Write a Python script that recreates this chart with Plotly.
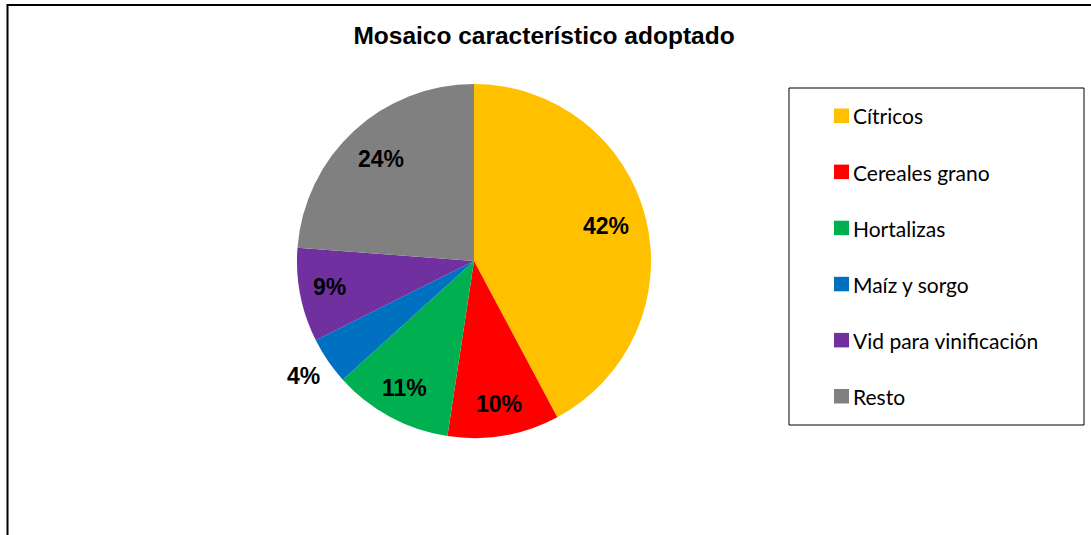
import math
import plotly.graph_objects as go

# ---- data ----
labels = ["Cítricos", "Cereales grano", "Hortalizas", "Maíz y sorgo", "Vid para vinificación", "Resto"]
values = [42.2, 10.2, 10.9, 4.3, 8.6, 23.8]
colors = ["#FFC000", "#FF0000", "#00B050", "#0070C0", "#7030A0", "#808080"]
title_text = "Mosaico característico adoptado"

# ---- layout geometry (pixels) ----
W, H = 1091, 535
CX, CY, R = 474, 261, 177


def px(x):
    return x / W


def py(y):
    return 1 - y / H


fig = go.Figure()
fig.add_trace(go.Pie(
    labels=labels,
    values=values,
    marker=dict(colors=colors, line=dict(width=0)),
    sort=False,
    direction="clockwise",
    rotation=0,
    textinfo="none",
    hoverinfo="label+percent",
    showlegend=False,
    domain=dict(x=[px(CX - R), px(CX + R)], y=[py(CY + R), py(CY - R)]),
))

annotations = []
shapes = []

# percentage labels, placed at each slice's mid-angle
total = sum(values)
cum = 0.0
for v in values:
    frac = v / total
    mid = (cum + frac / 2) * 2 * math.pi
    cum += frac
    if frac < 0.05:
        rr = 1.17
    elif frac > 0.2:
        rr = 0.77
    else:
        rr = 0.83
    lx = CX + rr * R * math.sin(mid)
    ly = CY - rr * R * math.cos(mid) - 2
    annotations.append(dict(
        x=px(lx), y=py(ly), xref="paper", yref="paper",
        text=f"{round(frac * 100)}%", showarrow=False,
        xanchor="center", yanchor="middle",
        font=dict(family="Liberation Sans, Arial", size=23, color="black", weight="bold"),
    ))

# legend (drawn manually to match spacing)
LX0, LX1, LY0, LY1 = 789, 1084, 88, 425
shapes.append(dict(type="rect", xref="paper", yref="paper",
                   x0=px(LX0), x1=px(LX1), y0=py(LY0), y1=py(LY1),
                   line=dict(color="black", width=1), fillcolor="rgba(0,0,0,0)"))
first_y, step = 116, 56.1
for i, (lab, col) in enumerate(zip(labels, colors)):
    yc = first_y + step * i
    shapes.append(dict(type="rect", xref="paper", yref="paper",
                       x0=px(834), x1=px(849), y0=py(yc + 7), y1=py(yc - 7.5),
                       line=dict(width=0), fillcolor=col))
    annotations.append(dict(
        x=px(851), y=py(yc), xref="paper", yref="paper",
        text=lab, showarrow=False, xanchor="left", yanchor="middle",
        font=dict(family="Lato", size=21, color="black"),
    ))

# outer chart border (extends past the visible area)
shapes.append(dict(type="rect", xref="paper", yref="paper",
                   x0=px(7.5), x1=px(W + 20), y0=py(H + 20), y1=py(5),
                   line=dict(color="black", width=2), fillcolor="rgba(0,0,0,0)"))

fig.update_layout(
    width=W, height=H, autosize=False,
    margin=dict(l=0, r=0, t=0, b=0),
    paper_bgcolor="white", plot_bgcolor="white",
    title=dict(text=title_text, x=px(544), xref="paper", xanchor="center",
               y=py(35), yref="paper", yanchor="middle",
               font=dict(family="Liberation Sans, Arial", size=24.5, color="black", weight="bold")),
    annotations=annotations,
    shapes=shapes,
)

fig.write_html(
    "out.html",
    config={"displayModeBar": False},
    post_script="document.body.style.margin='0';document.body.style.overflow='hidden';",
)
